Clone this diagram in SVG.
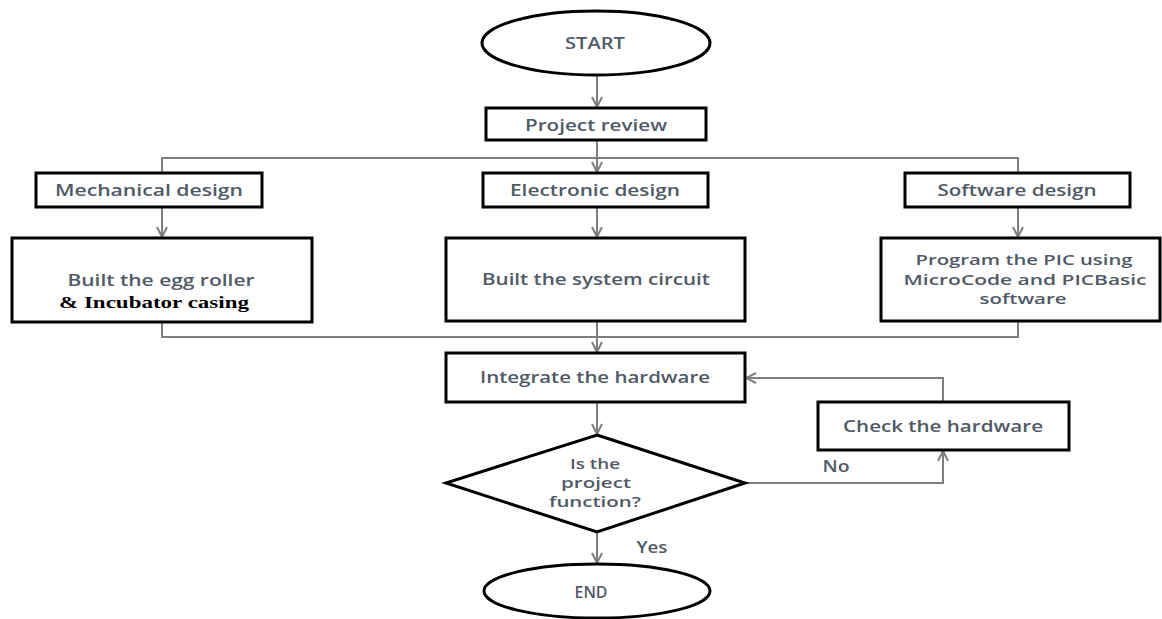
<svg xmlns="http://www.w3.org/2000/svg" width="1162" height="619" viewBox="0 0 1162 619">
<style>
.box{fill:#fff;stroke:#000;stroke-width:3}
.t{font-family:"Open Sans","Liberation Sans",sans-serif;font-size:16px;font-weight:600;fill:#4f5a66;text-anchor:middle;dominant-baseline:central}
.m{font-size:13.5px}
.s{font-family:"Liberation Serif","Times New Roman",serif;font-size:17px;font-weight:bold;fill:#000;text-anchor:middle;dominant-baseline:central}
.c{fill:none;stroke:#7f7f7f;stroke-width:2}
</style>
<defs>
<marker id="ah" viewBox="0 0 12 12" refX="11" refY="6" markerWidth="12" markerHeight="12" markerUnits="userSpaceOnUse" orient="auto">
<path d="M1,1 L11,6 L1,11" fill="none" stroke="#7f7f7f" stroke-width="2"/>
</marker>
</defs>
<g id="connectors">
<path class="c" d="M597,75 V107" marker-end="url(#ah)"/>
<path class="c" d="M597,140 V172" marker-end="url(#ah)"/>
<path class="c" d="M162,173 V158 H1018 V173"/>
<path class="c" d="M162,207 V237" marker-end="url(#ah)"/>
<path class="c" d="M597,207 V237" marker-end="url(#ah)"/>
<path class="c" d="M1018,207 V237" marker-end="url(#ah)"/>
<path class="c" d="M162,322 V337 H1018 V322"/>
<path class="c" d="M597,321 V352" marker-end="url(#ah)"/>
<path class="c" d="M597,402 V434" marker-end="url(#ah)"/>
<path class="c" d="M597,532 V563" marker-end="url(#ah)"/>
<path class="c" d="M745,483 H943 V451" marker-end="url(#ah)"/>
<path class="c" d="M943,402 V378 H746" marker-end="url(#ah)"/>
</g>
<g id="start">
<ellipse class="box" cx="596" cy="43" rx="114" ry="32"/>
<text class="t" x="595" y="43" textLength="60" lengthAdjust="spacingAndGlyphs">START</text>
</g>
<g id="project-review">
<rect class="box" x="486" y="108" width="220" height="32"/>
<text class="t" x="596" y="125" textLength="142" lengthAdjust="spacingAndGlyphs">Project review</text>
</g>
<g id="mechanical-design">
<rect class="box" x="36" y="173" width="226" height="34"/>
<text class="t" x="149" y="190" textLength="188" lengthAdjust="spacingAndGlyphs">Mechanical design</text>
</g>
<g id="electronic-design">
<rect class="box" x="483" y="173" width="225" height="34"/>
<text class="t" x="595" y="190" textLength="170" lengthAdjust="spacingAndGlyphs">Electronic design</text>
</g>
<g id="software-design">
<rect class="box" x="905" y="173" width="225" height="34"/>
<text class="t" x="1017" y="190" textLength="159" lengthAdjust="spacingAndGlyphs">Software design</text>
</g>
<g id="egg-roller">
<rect class="box" x="12" y="238" width="300" height="84"/>
<text class="t" x="161" y="280" textLength="187" lengthAdjust="spacingAndGlyphs">Built the egg roller</text>
<text class="s" x="154" y="302" textLength="190" lengthAdjust="spacingAndGlyphs">&amp; Incubator casing</text>
</g>
<g id="system-circuit">
<rect class="box" x="446" y="238" width="299" height="83"/>
<text class="t" x="596" y="279" textLength="228" lengthAdjust="spacingAndGlyphs">Built the system circuit</text>
</g>
<g id="program-pic">
<rect class="box" x="881" y="238" width="279" height="83"/>
<text class="t m" x="1024" y="260" textLength="217" lengthAdjust="spacingAndGlyphs">Program the PIC using</text>
<text class="t m" x="1025" y="280" textLength="243" lengthAdjust="spacingAndGlyphs">MicroCode and PICBasic</text>
<text class="t m" x="1023" y="299" textLength="87" lengthAdjust="spacingAndGlyphs">software</text>
</g>
<g id="integrate">
<rect class="box" x="446" y="353" width="299" height="49"/>
<text class="t" x="595" y="377" textLength="230" lengthAdjust="spacingAndGlyphs">Integrate the hardware</text>
</g>
<g id="check">
<rect class="box" x="818" y="402" width="251" height="48"/>
<text class="t" x="943" y="426" textLength="200" lengthAdjust="spacingAndGlyphs">Check the hardware</text>
</g>
<g id="decision">
<polygon class="box" points="597,435 745,483 597,532 446,483"/>
<text class="t m" x="595" y="464" textLength="50" lengthAdjust="spacingAndGlyphs">Is the</text>
<text class="t m" x="596" y="483" textLength="70" lengthAdjust="spacingAndGlyphs">project</text>
<text class="t m" x="595" y="502" textLength="92" lengthAdjust="spacingAndGlyphs">function?</text>
</g>
<g id="labels">
<text class="t" x="836" y="466" textLength="27" lengthAdjust="spacingAndGlyphs">No</text>
<text class="t" x="652" y="547" textLength="31" lengthAdjust="spacingAndGlyphs">Yes</text>
</g>
<g id="end">
<ellipse class="box" cx="597" cy="591" rx="113" ry="27"/>
<text class="t" x="591" y="592" textLength="33" lengthAdjust="spacingAndGlyphs">END</text>
</g>
</svg>
